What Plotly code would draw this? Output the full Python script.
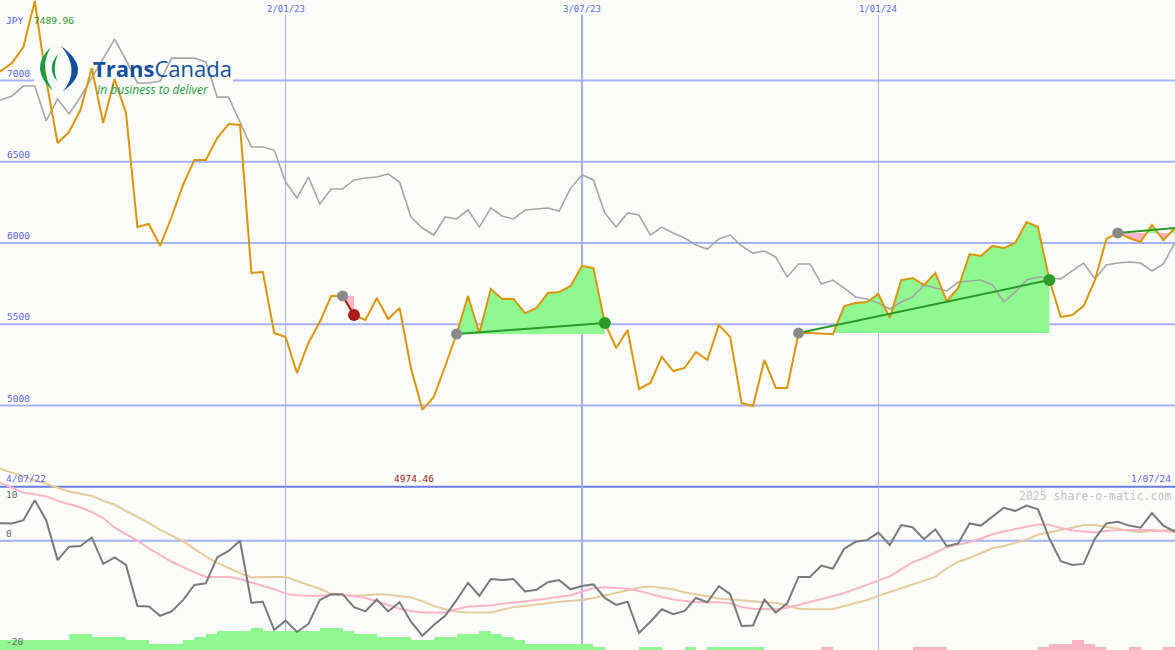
import plotly.graph_objects as go
import pandas as pd

W, H = 1175, 650
BG = "#fcfdfb"

# ---------------- data ----------------
dates = pd.date_range("2022-07-04", periods=105, freq="7D")
date_labels = [f"{d.day}/{d.month:02d}/{d.year % 100:02d}" for d in dates]

price = [7028, 7058, 7108, 7206, 7489.96, 7003, 6615, 6683, 6818, 7077,
         6738, 7009, 6800, 6098, 6117, 5982, 6160, 6357, 6511, 6511,
         6646, 6732, 6726, 5815, 5822, 5446, 5422, 5200, 5385, 5514,
         5674, 5674, 5557, 5526, 5662, 5532, 5600, 5231, 4974.46, 5052,
         5243, 5440, 5674, 5446, 5717, 5655, 5655, 5569, 5600, 5692,
         5699, 5735, 5859, 5846, 5508, 5354, 5465, 5102, 5139, 5299,
         5212, 5231, 5329, 5280, 5495, 5422, 5015, 4997, 5280, 5108,
         5108, 5446, 5446, 5440, 5438, 5612, 5631, 5637, 5686, 5539,
         5772, 5785, 5742, 5815, 5643, 5723, 5932, 5920, 5982, 5969,
         6000, 6129, 6098, 5772, 5545, 5557, 5612, 5772, 6025, 6062,
         6031, 6006, 6111, 6018, 6092]

compare = [6868, 6880, 6905, 6966, 6966, 6751, 6886, 6794, 6898, 7015,
           7138, 7255, 7126, 6985, 6985, 6997, 7138, 7138, 7138, 7114,
           6898, 6898, 6745, 6591, 6591, 6572, 6375, 6277, 6406, 6240,
           6332, 6332, 6388, 6400, 6406, 6425, 6375, 6160, 6092, 6049,
           6160, 6148, 6203, 6098, 6215, 6166, 6148, 6203, 6209, 6215,
           6197, 6338, 6418, 6388, 6185, 6098, 6185, 6172, 6049, 6098,
           6062, 6031, 5988, 5963, 6025, 6049, 5982, 5938, 5951, 5914,
           5791, 5871, 5871, 5748, 5772, 5723, 5668, 5655, 5631, 5594,
           5637, 5668, 5742, 5723, 5705, 5760, 5766, 5772, 5742, 5637,
           5698, 5772, 5791, 5785, 5779, 5828, 5877, 5779, 5865, 5877,
           5883, 5877, 5828, 5871, 6000]

momentum = [3.3, 3.2, 3.2, 3.8, 7.5, 3.8, -3.6, -1.1, -1.0, 0.6,
            -4.3, -3.1, -4.5, -12.1, -12.2, -13.9, -13.1, -11.0, -8.2, -7.9,
            -3.1, -1.9, 0.0, -11.5, -11.3, -16.5, -14.8, -16.9, -15.4, -11.0,
            -9.9, -9.9, -12.3, -13.1, -10.9, -13.1, -11.4, -15.0, -17.6, -15.6,
            -13.9, -11.0, -7.8, -10.2, -7.1, -7.3, -7.1, -9.4, -9.1, -7.7,
            -7.3, -9.0, -8.4, -8.1, -10.6, -11.9, -11.3, -17.1, -15.0, -12.7,
            -13.6, -13.0, -10.6, -11.4, -8.4, -9.9, -15.8, -15.7, -10.9, -13.3,
            -11.6, -6.7, -6.7, -4.6, -5.2, -1.5, -0.2, 0.1, 1.5, -0.8,
            2.9, 2.5, 0.3, 2.1, -1.0, -0.5, 3.2, 2.8, 4.4, 6.1,
            5.5, 6.5, 5.8, 0.4, -3.8, -4.5, -4.3, 0.4, 3.2, 3.5,
            2.8, 2.4, 5.1, 2.8, 1.7]

mom_fast = [11.6, 10.7, 9.8, 8.9, 8.6, 8.2, 7.4, 6.8, 6.2, 5.3,
            4.2, 2.4, 1.2, 0.0, -1.4, -2.7, -3.9, -4.9, -5.8, -6.7,
            -6.7, -6.7, -7.1, -7.7, -8.4, -9.0, -9.8, -10.1, -10.2, -10.2,
            -10.0, -10.0, -10.3, -10.6, -11.2, -11.9, -12.6, -13.0, -13.3, -13.3,
            -13.3, -12.7, -12.2, -12.1, -12.0, -11.7, -11.5, -11.2, -11.0, -10.7,
            -10.4, -10.1, -9.4, -8.8, -8.6, -8.7, -8.9, -9.3, -9.9, -10.4,
            -10.9, -11.2, -11.4, -11.4, -11.4, -11.6, -12.3, -12.6, -12.7, -12.7,
            -12.4, -11.9, -11.4, -10.9, -10.3, -9.7, -8.9, -8.1, -7.3, -6.6,
            -5.3, -4.0, -3.2, -2.2, -1.2, -0.7, -0.3, 0.4, 1.2, 1.7,
            2.2, 2.6, 3.0, 2.9, 2.4, 1.9, 1.7, 1.5, 1.8, 2.0,
            2.0, 2.0, 2.0, 1.8, 1.6]

mom_slow = [14.0, 13.3, 12.5, 11.8, 11.1, 10.4, 9.8, 9.1, 8.7, 8.3,
            7.4, 6.7, 5.5, 4.4, 3.3, 2.0, 1.0, -0.1, -1.5, -2.9,
            -4.1, -5.1, -6.0, -6.8, -6.7, -6.7, -6.7, -7.5, -8.2, -8.9,
            -9.9, -10.1, -10.2, -10.1, -9.9, -10.0, -10.2, -10.5, -11.2, -12.1,
            -12.7, -13.1, -13.3, -13.3, -13.3, -12.8, -12.3, -12.1, -11.9, -11.6,
            -11.3, -11.2, -11.0, -10.6, -10.1, -9.6, -9.1, -8.7, -8.5, -8.7,
            -9.0, -9.6, -9.9, -10.3, -10.7, -10.9, -11.1, -11.2, -11.4, -11.5,
            -12.0, -12.6, -12.7, -12.7, -12.7, -12.1, -11.5, -11.0, -10.2, -9.5,
            -8.8, -8.1, -7.4, -6.7, -5.1, -3.9, -3.2, -2.3, -1.4, -1.0,
            -0.4, 0.2, 1.1, 1.6, 2.0, 2.4, 2.9, 2.9, 2.6, 2.2,
            1.8, 1.6, 1.8, 1.9, 2.0]

histogram = [3, 3, 3, 3, 3, 3, 3, 5, 5, 4,
             4, 4, 3, 3, 2, 2, 2, 3, 4, 5,
             6, 6, 6, 7, 6, 6, 6, 6, 6, 7,
             7, 6, 5, 5, 4, 4, 4, 3, 3, 4,
             4, 5, 5, 6, 5, 4, 3, 2, 2, 2,
             2, 2, 2, 1, 0, 0, 0, 1, 1, 0,
             0, 1, 0, 1, 1, 1, 1, 1, 0, 0,
             0, 0, 0, -1, 0, 0, 0, 0, 0, 0,
             0, -1, -1, -1, 0, 0, 0, 0, 0, 0,
             0, 0, -1, -2, -2, -3, -2, -1, 0, 0,
             -1, 0, 0, -1, 0]

trend_start = [31, 41, 71, 99]
trend_end = [32, 54, 93, 104]

grid_dates = ["2023-01-02", "2023-07-03", "2024-01-01"]
price_ticks = [7000, 6500, 6000, 5500, 5000]
osc_ticks = [10, 0, -20]
currency = "JPY"
watermark = "2025 share-o-matic.com"

# ---------------- layout constants ----------------
X_RANGE = [0.947, 104.02]
PRICE_RANGE = [3495.4, 7495.4]
OSC_RANGE = [-20.24, 100.13]
HIST_RANGE = [0, 203.1]

ORANGE = "#d9960a"
GREEN_FILL = "#90f890"
PINK_FILL = "#f8b4c8"
TICK_BLUE = "#5766ea"
GRID = "#a6b2f2"
MONO = "DejaVu Sans Mono"

idx = list(range(len(price)))


def px(x):
    return x / W


def py(y):
    return 1 - y / H


fig = go.Figure()

# ---- histogram bars (bottom layer, main axis) ----
gx = [i for i in idx if histogram[i] > 0]
fig.add_trace(go.Bar(x=gx, y=[histogram[i] for i in gx], width=1, offset=0,
                     marker=dict(color=GREEN_FILL, line=dict(width=0)),
                     xaxis="x", yaxis="y", hoverinfo="skip"))
nx = [i for i in idx if histogram[i] < 0]
fig.add_trace(go.Bar(x=nx, y=[-histogram[i] for i in nx], width=1, offset=0,
                     marker=dict(color=PINK_FILL, line=dict(width=0)),
                     xaxis="x", yaxis="y", hoverinfo="skip"))

# ---- oscillator lines ----
fig.add_trace(go.Scatter(x=idx, y=mom_slow, mode="lines",
                         line=dict(color="#e4cc9c", width=2), yaxis="y2"))
fig.add_trace(go.Scatter(x=idx, y=mom_fast, mode="lines",
                         line=dict(color="#f8b4c8", width=2), yaxis="y2"))
fig.add_trace(go.Scatter(x=idx, y=momentum, mode="lines",
                         line=dict(color="#7a7a7a", width=2), yaxis="y2"))

# ---- trend fills ----
for s, e in zip(trend_start, trend_end):
    base = price[s]
    pts = []
    for k in range(s, e):
        pts.append((k, price[k]))
        a, b = price[k] - base, price[k + 1] - base
        if a * b < 0:
            pts.append((k + a / (a - b), base))
    pts.append((e, price[e]))
    xs = [p[0] for p in pts]
    up = [max(p[1], base) for p in pts]
    dn = [min(p[1], base) for p in pts]
    fig.add_trace(go.Scatter(x=xs + [e, s], y=up + [base, base], fill="toself",
                             mode="none", fillcolor=GREEN_FILL, yaxis="y3",
                             hoverinfo="skip"))
    fig.add_trace(go.Scatter(x=xs + [e, s], y=dn + [base, base], fill="toself",
                             mode="none", fillcolor=PINK_FILL, yaxis="y3",
                             hoverinfo="skip"))

# ---- price lines ----
fig.add_trace(go.Scatter(x=idx, y=compare, mode="lines",
                         line=dict(color="#a6a6a6", width=1.6), yaxis="y3"))
fig.add_trace(go.Scatter(x=idx, y=price, mode="lines",
                         line=dict(color=ORANGE, width=2), yaxis="y3"))

# ---- trend lines and markers ----
for s, e in zip(trend_start, trend_end):
    up_trend = price[e] >= price[s]
    col = "#2a9a2a" if up_trend else "#a81c1c"
    fig.add_trace(go.Scatter(x=[s, e], y=[price[s], price[e]], mode="lines",
                             line=dict(color=col, width=2), yaxis="y3"))
    fig.add_trace(go.Scatter(x=[s], y=[price[s]], mode="markers",
                             marker=dict(color="#8a8a8a", size=11), yaxis="y3"))
    if e < len(price) - 1:
        fig.add_trace(go.Scatter(x=[e], y=[price[e]], mode="markers",
                                 marker=dict(color=col, size=12), yaxis="y3"))

# ---------------- shapes ----------------
shapes = []
for t in price_ticks:
    shapes.append(dict(type="line", xref="paper", x0=0, x1=1, yref="y3", y0=t, y1=t,
                       line=dict(color=GRID, width=2), layer="below"))
for t in osc_ticks[:2]:
    shapes.append(dict(type="line", xref="paper", x0=0, x1=1, yref="y2", y0=t, y1=t,
                       line=dict(color="#6c7ce4" if t == osc_ticks[0] else GRID, width=2),
                       layer="below"))
date_index = {d.strftime("%Y-%m-%d"): i for i, d in enumerate(dates)}
for g in grid_dates:
    gi = date_index[g]
    shapes.append(dict(type="line", xref="x", x0=gi, x1=gi, yref="paper", y0=0, y1=py(15),
                       line=dict(color="#a2aef0", width=2 if dates[gi].month == 7 else 1),
                       layer="below"))
# logo background
shapes.append(dict(type="rect", xref="paper", yref="paper", x0=px(34), x1=px(233),
                   y0=py(100), y1=py(42), fillcolor=BG, line=dict(width=0), layer="below"))


def path(points_cmds):
    out = []
    for cmd, pts in points_cmds:
        coords = " ".join(f"{px(x):.5f},{py(y):.5f}" for x, y in pts)
        out.append(f"{cmd}{coords}")
    return " ".join(out) + " Z"


# logo swooshes (decorative)
shapes.append(dict(type="path", xref="paper", yref="paper", layer="above",
                   path=path([("M", [(51, 47)]), ("Q", [(28, 68), (53, 91)]),
                              ("Q", [(38, 68), (51, 47)])]),
                   fillcolor="#1a9a48", line=dict(width=0)))
shapes.append(dict(type="path", xref="paper", yref="paper", layer="above",
                   path=path([("M", [(58, 54)]), ("Q", [(46, 68), (57, 81)]),
                              ("Q", [(52, 68), (58, 54)])]),
                   fillcolor="#1a9a48", line=dict(width=0)))
shapes.append(dict(type="path", xref="paper", yref="paper", layer="above",
                   path=path([("M", [(61, 46)]), ("Q", [(94, 70), (63, 91)]),
                              ("Q", [(81, 70), (61, 46)])]),
                   fillcolor="#15509c", line=dict(width=0)))

# ---------------- annotations ----------------
ann = []


def label(text, x, y, color, size=9.5, xanchor="left", yanchor="middle",
          xref="paper", yref="paper", family=MONO, xshift=0):
    ann.append(dict(text=text, x=x, y=y, xref=xref, yref=yref, showarrow=False,
                    xanchor=xanchor, yanchor=yanchor, xshift=xshift,
                    font=dict(family=family, size=size, color=color)))


for t in price_ticks:
    label(str(t), px(5), t, TICK_BLUE, yref="y3", yanchor="bottom")
label(str(osc_ticks[0]), px(4), osc_ticks[0], "#666666", yref="y2", yanchor="top")
for t in osc_ticks[1:]:
    label(str(t), px(4), t, "#666666", yref="y2", yanchor="bottom")

for g in grid_dates:
    gi = date_index[g]
    label(date_labels[gi], gi, py(9), TICK_BLUE, size=9, xanchor="center", xref="x")

label(currency, px(4), py(21), TICK_BLUE)
label(f"{max(price):.2f}", px(32), py(21), "#2a962a")
label(date_labels[0], px(4), py(478), TICK_BLUE)
label(date_labels[-1], px(1173), py(478), TICK_BLUE, xanchor="right")
imin = price.index(min(price))
label(f"{min(price):.2f}", imin, py(478), "#a01c1c", xanchor="center", xref="x", xshift=-8)
label(watermark, px(1173), py(496), "#c2c2c2", size=11.5, xanchor="right")

# logo text
label("<b>Trans</b>Canada", px(91), py(68), "#15509c", size=22, family="Open Sans")
label("<i>In business to deliver</i>", px(95), py(89), "#1a9a48", size=12, family="Open Sans")

fig.update_layout(
    width=W, height=H, margin=dict(l=0, r=0, t=0, b=0),
    paper_bgcolor=BG, plot_bgcolor=BG, showlegend=False, bargap=0,
    xaxis=dict(range=X_RANGE, visible=False, fixedrange=True),
    yaxis=dict(range=HIST_RANGE, visible=False),
    yaxis2=dict(range=OSC_RANGE, visible=False, overlaying="y"),
    yaxis3=dict(range=PRICE_RANGE, visible=False, overlaying="y"),
    shapes=shapes, annotations=ann,
)

fig.write_html(
    "out.html",
    config={"displayModeBar": False},
    post_script="document.body.style.margin='0';document.body.style.overflow='hidden';",
)
